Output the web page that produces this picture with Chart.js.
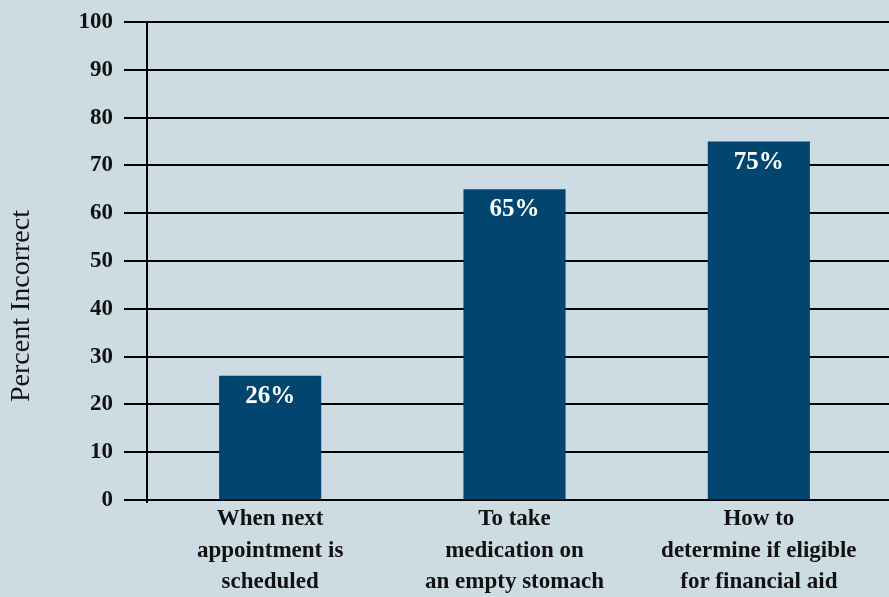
<!DOCTYPE html>
<html>
<head>
<meta charset="utf-8">
<title>Percent Incorrect</title>
<script src="https://cdn.jsdelivr.net/npm/chart.js@4.4.1/dist/chart.umd.min.js"></script>
<style>
    html, body { margin: 0; padding: 0; background: #cddbe3; }
    #wrap { width: 889px; height: 597px; position: relative; }
</style>
</head>
<body>
<div id="wrap"><canvas id="chart"></canvas></div>
<script>
// 数据
const categories = [
    ['When next', 'appointment is', 'scheduled'],
    ['To take', 'medication on', 'an empty stomach'],
    ['How to', 'determine if eligible', 'for financial aid']
];
const percentIncorrect = [26, 65, 75];
const yMin = 0;
const yMax = 100;
const yStep = 10;
const axisTitle = 'Percent Incorrect';

const serif = "'Liberation Serif', 'DejaVu Serif', serif";
const barColor = '#02466f';

// 网格线和纵轴线（画在柱子下面）
const gridPlugin = {
    id: 'fullGrid',
    beforeDatasetsDraw(chart) {
        const { ctx, chartArea, scales: { y } } = chart;
        ctx.save();
        ctx.strokeStyle = '#000';
        ctx.lineWidth = 2;
        y.ticks.forEach(t => {
            const py = Math.round(y.getPixelForValue(t.value));
            ctx.beginPath();
            ctx.moveTo(chartArea.left - 24, py);
            ctx.lineTo(chart.width, py);
            ctx.stroke();
        });
        ctx.beginPath();
        ctx.moveTo(chartArea.left - 1, chartArea.top);
        ctx.lineTo(chartArea.left - 1, chartArea.bottom + 3);
        ctx.stroke();

        // 纵轴标题
        ctx.fillStyle = '#111';
        ctx.font = '28px ' + serif;
        ctx.textAlign = 'center';
        ctx.textBaseline = 'middle';
        ctx.translate(22, 306);
        ctx.rotate(-Math.PI / 2);
        ctx.fillText(axisTitle, 0, 0);
        ctx.restore();
    }
};

// 柱内百分比标签
const valueLabels = {
    id: 'valueLabels',
    afterDatasetsDraw(chart) {
        const { ctx } = chart;
        const meta = chart.getDatasetMeta(0);
        ctx.save();
        ctx.fillStyle = '#fff';
        ctx.font = 'bold 25px ' + serif;
        ctx.textAlign = 'center';
        ctx.textBaseline = 'alphabetic';
        meta.data.forEach((bar, i) => {
            ctx.fillText(percentIncorrect[i] + '%', bar.x, bar.y + 27);
        });
        ctx.restore();
    }
};

const ctx = document.getElementById('chart').getContext('2d');
const chart = new Chart(ctx, {
    type: 'bar',
    data: {
        labels: categories,
        datasets: [{
            data: percentIncorrect,
            backgroundColor: barColor,
            borderWidth: 0,
            categoryPercentage: 1,
            barPercentage: 0.418
        }]
    },
    options: {
        responsive: true,
        maintainAspectRatio: false,
        animation: false,
        devicePixelRatio: 1,
        layout: {
            padding: { top: 22, right: 8, left: 0, bottom: 0 }
        },
        plugins: {
            legend: { display: false },
            tooltip: { enabled: false }
        },
        scales: {
            x: {
                grid: { display: false, drawTicks: false },
                border: { display: false },
                ticks: {
                    color: '#111',
                    padding: 4,
                    maxRotation: 0,
                    autoSkip: false,
                    font: { family: serif, size: 23, weight: 'bold', lineHeight: 1.35 }
                },
                afterFit(scale) { scale.height = 97; }
            },
            y: {
                min: yMin,
                max: yMax,
                grid: { color: 'transparent', tickLength: 24, drawOnChartArea: false },
                border: { display: false },
                ticks: {
                    stepSize: yStep,
                    color: '#111',
                    padding: 11,
                    font: { family: serif, size: 23, weight: 'bold' }
                },
                afterFit(scale) {
                    scale.width = 148;
                    scale.paddingTop = 0;
                    scale.paddingBottom = 0;
                }
            }
        }
    },
    plugins: [gridPlugin, valueLabels]
});
</script>
</body>
</html>
